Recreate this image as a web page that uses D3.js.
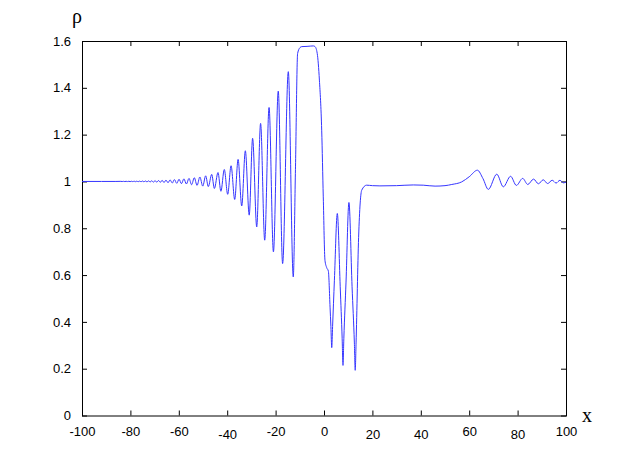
<!DOCTYPE html>
<html>
<head>
<meta charset="utf-8">
<script src="https://cdn.jsdelivr.net/npm/d3@7"></script>
<style>
  body { margin: 0; background: #fff; }
  text { font-family: "Liberation Sans", Arial, sans-serif; }
  .tick text { font-size: 13px; fill: #000; }
  .tick line { stroke: #000; }
  .axis-label { font-family: "Liberation Serif", "DejaVu Serif", serif; font-size: 20px; }
</style>
</head>
<body>
<svg id="chart"></svg>
<script>
var width = 627;
var height = 468;
var margin = { top: 41, right: 61, bottom: 52.5, left: 82 };

// tick labels
var xTicks = [-100, -80, -60, -40, -20, 0, 20, 40, 60, 80, 100];
var yTicks = [0, 0.2, 0.4, 0.6, 0.8, 1, 1.2, 1.4, 1.6];

// small leading oscillations, far left
var tailX = [-100, -92, -86, -83.95, -83.4, -82.85, -82.3, -81.75, -81.2, -80.65, -80.1,
  -79.55, -79.0, -78.45, -77.9, -77.35, -76.8, -76.2, -75.6, -75.0, -74.4, -73.8, -73.15,
  -72.5, -71.85, -71.2, -70.5, -69.8, -69.1, -68.4, -67.65, -66.9, -66.1, -65.3, -64.45,
  -63.6, -62.7, -61.8, -60.85, -59.9, -58.9, -57.9, -56.85, -55.8, -54.7, -53.6, -52.45,
  -51.3, -50.1];
var tailY = [1, 1, 1, 1.0004, 0.9996, 1.0005, 0.9995, 1.0006, 0.9994, 1.0007, 0.9993,
  1.0008, 0.9992, 1.001, 0.999, 1.0012, 0.9988, 1.0014, 0.9986, 1.0017, 0.9983, 1.002, 0.998,
  1.0024, 0.9976, 1.0028, 0.9972, 1.0034, 0.9967, 1.004, 0.9961, 1.0047, 0.9953, 1.0056, 0.9944,
  1.0066, 0.9933, 1.0078, 0.992, 1.0092, 0.9905, 1.011, 0.989, 1.013, 0.986, 1.016, 0.983,
  1.019, 0.98];

// growing oscillations up to the plateau
var waveX = [-48.9, -47.8, -46.4, -45.3, -43.8, -42.6, -41.2, -39.8, -38.4, -36.9, -35.5,
  -34.0, -32.5, -30.9, -29.5, -27.8, -26.2, -24.5, -22.7, -20.9, -18.9, -17.1, -14.75, -12.7];
var waveY = [1.024, 0.978, 1.030, 0.970, 1.038, 0.958, 1.051, 0.945, 1.067, 0.923, 1.094,
  0.895, 1.131, 0.856, 1.184, 0.806, 1.248, 0.749, 1.316, 0.699, 1.386, 0.649, 1.469, 0.592];

// plateau, drop and deep troughs
var shockX = [-11.8, -10.9, -9.9, -9.2, -7.0, -4.4, -3.7, -2.8, -1.9, -0.95, -0.3, 0.4, 1.1,
  1.8, 2.5, 2.85, 3.2, 3.55, 4.3, 5.5, 6.7, 7.5, 7.85, 8.2, 9.1, 10.3, 11.6, 12.55, 12.9, 13.25,
  14.3, 15.6, 17.6];
var shockY = [1.05, 1.547, 1.572, 1.576, 1.577, 1.579, 1.576, 1.547, 1.433, 1.219, 0.934,
  0.663, 0.632, 0.617, 0.463, 0.38, 0.290, 0.38, 0.578, 0.863, 0.55, 0.33, 0.214, 0.33, 0.57,
  0.910, 0.55, 0.31, 0.193, 0.31, 0.76, 0.963, 0.984];

// flat shelf and trailing ripples on the right
var rightX = [20, 23.1, 30, 36.9, 41, 45.9, 50, 52.8, 56.9, 60, 63.4, 65.7, 67.9, 71.4, 74.1,
  77.1, 79.5, 82.1, 84.2, 86.6, 88.6, 90.6, 92.4, 94.3, 95.9, 97.5, 98.9, 100];
var rightY = [0.982, 0.981, 0.982, 0.985, 0.984, 0.980, 0.982, 0.987, 0.998, 1.020, 1.048,
  1.012, 0.966, 1.031, 0.977, 1.022, 0.983, 1.013, 0.987, 1.010, 0.990, 1.007, 0.991, 1.005,
  0.993, 1.005, 0.994, 0.997];

var xs = tailX.concat(waveX, shockX, rightX);
var ys = tailY.concat(waveY, shockY, rightY);
var data = xs.map((x, i) => ({ x: x, y: ys[i] }));

var innerW = width - margin.left - margin.right;
var innerH = height - margin.top - margin.bottom;

var svg =
  d3.select("#chart")
    .attr("width", width)
    .attr("height", height);

// scales
var xScale =
  d3.scaleLinear()
    .domain([-100, 100])
    .range([margin.left, margin.left + innerW]);

var yScale =
  d3.scaleLinear()
    .domain([0, 1.6])
    .range([margin.top + innerH, margin.top]);

var lowered = [-40, 20, 40, 80];
var tick = 5;

// bottom axis, plain hyphen for negatives
svg.append("g")
    .attr("transform", `translate(0, ${margin.top + innerH})`)
    .call(
      d3.axisBottom(xScale)
        .tickValues(xTicks)
        .tickSizeInner(-tick)
        .tickSizeOuter(0)
        .tickPadding(9)
        .tickFormat(d => String(d))
    )
    .call(g => g.select(".domain").remove())
    .call(g => g.selectAll(".tick text")
      .attr("dy", d => lowered.indexOf(d) >= 0 ? "1.08em" : "0.9em"));

// top axis, ticks only
svg.append("g")
    .attr("transform", `translate(0, ${margin.top})`)
    .call(d3.axisTop(xScale).tickValues(xTicks).tickSizeInner(-tick).tickSizeOuter(0).tickFormat(""))
    .call(g => g.select(".domain").remove());

// left axis
svg.append("g")
    .attr("transform", `translate(${margin.left}, 0)`)
    .call(
      d3.axisLeft(yScale)
        .tickValues(yTicks)
        .tickSizeInner(-tick)
        .tickSizeOuter(0)
        .tickPadding(11)
        .tickFormat(d => String(d))
    )
    .call(g => g.select(".domain").remove());

// right axis, ticks only
svg.append("g")
    .attr("transform", `translate(${margin.left + innerW}, 0)`)
    .call(d3.axisRight(yScale).tickValues(yTicks).tickSizeInner(-tick).tickSizeOuter(0).tickFormat(""))
    .call(g => g.select(".domain").remove());

// frame
svg.append("rect")
    .attr("x", margin.left + 0.5)
    .attr("y", margin.top + 0.5)
    .attr("width", innerW)
    .attr("height", innerH)
    .attr("fill", "none")
    .attr("stroke", "#000")
    .attr("stroke-width", 1);

// curve
var line =
  d3.line()
    .x(d => xScale(d.x))
    .y(d => yScale(d.y))
    .curve(d3.curveMonotoneX);

svg.append("path")
    .datum(data)
    .attr("d", line)
    .attr("fill", "none")
    .attr("stroke", "#3535ff")
    .attr("stroke-width", 1);

// axis labels
svg.append("text")
    .classed("axis-label", true)
    .text("ρ")
    .attr("x", 77)
    .attr("y", 23)
    .attr("text-anchor", "middle");

svg.append("text")
    .classed("axis-label", true)
    .text("x")
    .attr("x", 582)
    .attr("y", 421.5);
</script>
</body>
</html>
